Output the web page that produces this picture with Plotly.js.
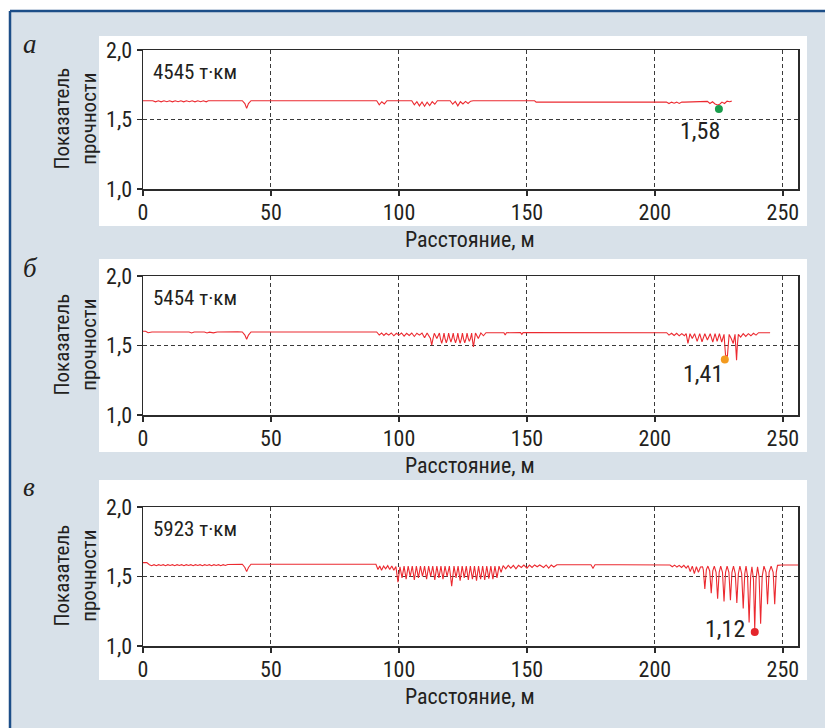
<!DOCTYPE html>
<html><head><meta charset="utf-8">
<script src="https://cdn.plot.ly/plotly-3.0.1.min.js"></script>
<style>html,body{margin:0;padding:0;background:#fff;} #chart{width:825px;height:728px;}</style>
</head><body><div id="chart"></div>
<script>
// ---------- DATA ----------
const xTicks = [0, 50, 100, 150, 200, 250];
const yTicks = [1.0, 1.5, 2.0];
const yTickText = ['1,0', '1,5', '2,0'];
const panelLetters = ['а', 'б', 'в'];
const panelLoads = ['4545 т·км', '5454 т·км', '5923 т·км'];
const xTitle = 'Расстояние, м';
const yTitle = 'Показатель<br>прочности';

const distA = [0,3.8,4.9,6.0,7.1,8.2,9.3,10.4,11.5,12.6,13.7,14.8,15.9,17.0,18.1,19.2,20.3,21.4,22.5,23.6,24.7,25.5,
  38.8,39.8,40.5,41.2,42.2,
  91.3,92.3,93.3,94.3,95.3,
  105,106,107,108,109,110,111,112,113,114,115,
  120,121,122,123,124,125,126,127,128,129,
  153,153.6,
  204.5,205.5,206.5,207.5,208.5,209.5,210.5,211.5,
  217.5,220.5,221.5,222.5,223.5,224.5,225.3,226.2,227.2,228.2,229.2,230];
const valA = [1.635,1.635,1.627,1.635,1.627,1.635,1.628,1.635,1.627,1.635,1.628,1.635,1.627,1.635,1.628,1.635,1.627,1.635,1.628,1.635,1.627,1.635,
  1.635,1.615,1.58,1.615,1.635,
  1.635,1.606,1.628,1.612,1.635,
  1.635,1.605,1.628,1.598,1.626,1.595,1.625,1.60,1.628,1.61,1.635,
  1.635,1.61,1.63,1.598,1.628,1.612,1.63,1.615,1.632,1.635,
  1.635,1.625,
  1.625,1.615,1.625,1.617,1.625,1.616,1.625,1.625,
  1.63,1.63,1.615,1.628,1.612,1.605,1.61,1.625,1.615,1.632,1.628,1.632];

const distB = [0,1,2,3.5,10,14,17,18,19,20,24,25,26,27.5,29,34,37,
  38.8,39.8,40.5,41.2,42.2,
  91.3,92.3,93.2,94.1,95,96,97,98,99,100,101,102,103,104,105,106,107,108,109,110,111,
  112.3,112.8,113.3,113.8,114.8,115.8,116.2,116.7,117.2,117.6,118.0,118.5,119.0,119.4,119.8,120.3,120.8,121.2,121.6,122.1,122.6,123,123.4,123.9,124.4,124.8,125.2,125.7,126.2,126.6,127.0,127.5,128.0,128.4,128.7,129.1,129.5,129.9,131,132,133,134,
  141,141.5,142,147.5,148,148.5,
  204.6,205.5,206.5,207.5,208.5,209.5,210.5,211.5,212.2,212.5,212.9,213.3,213.7,214.6,215.5,216.5,217.5,218.4,219.5,220.5,221.6,222.6,223.5,224.3,225.2,226.1,
  227.0,227.3,227.6,228.3,228.6,229,229.8,230.6,231.3,231.6,231.9,232.2,232.6,233.5,234.5,235.5,236.5,237.5,238.5,239.5,240.5,245];
const valB = [1.603,1.603,1.592,1.597,1.597,1.597,1.592,1.597,1.59,1.597,1.597,1.59,1.596,1.591,1.597,1.60,1.598,
  1.597,1.575,1.545,1.575,1.597,
  1.597,1.575,1.59,1.572,1.588,1.575,1.59,1.57,1.588,1.575,1.59,1.568,1.588,1.572,1.59,1.565,1.588,1.575,1.59,1.555,1.59,
  1.55,1.503,1.55,1.588,1.55,1.59,1.55,1.515,1.55,1.59,1.55,1.52,1.55,1.59,1.555,1.525,1.555,1.59,1.55,1.52,1.55,1.59,1.55,1.515,1.55,1.59,1.55,1.52,1.55,1.59,1.555,1.53,1.555,1.59,1.54,1.49,1.54,1.59,1.55,1.59,1.57,1.592,
  1.592,1.575,1.592,1.593,1.58,1.593,
  1.592,1.575,1.588,1.572,1.588,1.57,1.585,1.57,1.585,1.55,1.516,1.55,1.585,1.55,1.585,1.53,1.585,1.527,1.585,1.54,1.585,1.525,1.585,1.53,1.585,1.525,
  1.58,1.5,1.43,1.42,1.5,1.58,1.55,1.515,1.58,1.5,1.395,1.5,1.58,1.56,1.585,1.565,1.585,1.57,1.588,1.575,1.592,1.592];

const distC = [0,1.5,2.5,3.4,4.3,5.2,6.1,7.0,7.9,8.8,9.7,10.6,11.5,12.4,13.3,14.2,15.1,16.0,16.9,17.8,18.7,19.6,20.5,21.4,22.3,23.2,24.1,25.0,25.9,26.8,27.7,28.6,29.5,30.4,31.3,32.2,33.1,
  38.8,39.8,40.5,41.2,42.2,
  91,91.8,92.5,93.2,94,94.8,95.6,96.4,97.2,98,98.8,99.6,100.4,101.2,102,102.8,103.6,104.4,105.2,106,106.8,107.6,108.4,109.2,110,110.8,111.6,112.4,113.2,114,114.8,115.6,116.4,117.2,118,118.8,119.7,
  120.6,121.5,122.3,123.1,123.9,124.7,125.5,126.3,127.1,127.9,128.7,129.5,130.3,131.1,131.9,132.7,133.5,134.3,135.1,135.9,136.7,137.5,138.3,139.1,139.9,
  140.7,141.7,142.7,143.7,144.7,145.7,146.7,147.8,148.8,150,151,152,153,154,155,156.5,157.5,158.5,159.5,160.5,161.7,
  175,175.8,176.6,186,196,
  205.9,206.8,207.7,208.6,209.5,210.4,211.3,212.2,213,213.8,214.6,215.4,216.2,217,217.8,218.6,
  218.9,219.5,220.1,220.7,221.4,222.0,222.6,223.2,223.9,224.5,225.1,225.7,226.4,227.0,227.6,228.2,228.9,229.5,230.1,230.7,231.4,232.0,232.6,233.2,
  233.9,234.5,235.1,235.6,236.2,236.8,237.4,237.9,238.5,239.0,239.5,240.1,240.7,241.3,241.9,242.6,243.4,244.0,244.6,245.4,246.2,246.8,247.4,247.9,249.5,256];
const valC = [1.60,1.60,1.585,1.578,1.585,1.578,1.585,1.579,1.585,1.578,1.585,1.579,1.585,1.578,1.585,1.579,1.585,1.578,1.585,1.579,1.585,1.578,1.585,1.579,1.585,1.578,1.585,1.579,1.585,1.578,1.585,1.579,1.585,1.578,1.585,1.579,1.586,
  1.588,1.565,1.535,1.565,1.588,
  1.588,1.55,1.575,1.545,1.575,1.555,1.578,1.55,1.575,1.545,1.572,1.46,1.57,1.49,1.575,1.48,1.575,1.50,1.575,1.475,1.575,1.49,1.575,1.50,1.575,1.48,1.575,1.50,1.575,1.475,1.575,1.49,1.575,1.48,1.575,1.50,1.575,
  1.43,1.575,1.49,1.575,1.47,1.575,1.49,1.575,1.475,1.575,1.48,1.575,1.47,1.575,1.48,1.575,1.475,1.575,1.485,1.575,1.48,1.575,1.49,1.575,1.53,
  1.578,1.555,1.58,1.56,1.58,1.555,1.58,1.565,1.582,1.56,1.582,1.565,1.583,1.57,1.583,1.565,1.583,1.56,1.583,1.568,1.585,
  1.585,1.56,1.585,1.585,1.583,
  1.583,1.57,1.582,1.568,1.58,1.565,1.58,1.56,1.578,1.535,1.575,1.52,1.57,1.53,1.568,1.57,
  1.55,1.41,1.55,1.575,1.54,1.38,1.54,1.575,1.53,1.34,1.53,1.575,1.53,1.32,1.53,1.575,1.53,1.33,1.53,1.575,1.52,1.31,1.52,1.575,
  1.52,1.27,1.52,1.575,1.50,1.17,1.50,1.57,1.48,1.12,1.48,1.57,1.50,1.16,1.50,1.575,1.53,1.30,1.53,1.575,1.53,1.30,1.53,1.58,1.583,1.583];

const minX = [225, 227.3, 239];
const minY = [1.575, 1.40, 1.10];
const minLabels = ['1,58', '1,41', '1,12'];
const minColors = ['#1a9d4c', '#f39a1f', '#e4252b'];

// ---------- LAYOUT GEOMETRY (pixels) ----------
const W = 825, H = 728;
const px = v => v / W, py = v => 1 - v / H;
const plotLeft = 143, plotRight = 798;
const panels = [
  {top: 50, bottom: 189, wTop: 36, wBot: 226, title: 240, letter: 44, load: 72, lx: -19, ly: -22},
  {top: 276, bottom: 415, wTop: 259, wBot: 452, title: 466, letter: 268, load: 298, lx: -22, ly: -15},
  {top: 507, bottom: 646, wTop: 480, wBot: 680, title: 696, letter: 487, load: 529, lx: -30, ly: 3}
];
const FONT = 'Liberation Sans Narrow, Roboto Condensed, DejaVu Sans Condensed, Arial Narrow, sans-serif';
const TXT = '#231f20';
const BORDER = '#1c4e88';

const dists = [distA, distB, distC];
const vals = [valA, valB, valC];

const data = [];
const layout = {
  width: W, height: H,
  margin: {l: 0, r: 0, t: 0, b: 0},
  paper_bgcolor: '#ffffff',
  plot_bgcolor: '#ffffff',
  showlegend: false,
  shapes: [
    {type: 'rect', xref: 'paper', yref: 'paper', layer: 'below',
     x0: px(10), x1: 1, y0: 0, y1: py(11),
     fillcolor: '#d8e1e9', line: {width: 0}},
    {type: 'line', xref: 'paper', yref: 'paper', layer: 'below',
     x0: px(10), x1: 1, y0: py(11), y1: py(11), line: {color: BORDER, width: 2.5}},
    {type: 'line', xref: 'paper', yref: 'paper', layer: 'below',
     x0: px(10), x1: px(10), y0: 0, y1: py(11), line: {color: BORDER, width: 2.5}}
  ],
  annotations: []
};

panels.forEach((p, i) => {
  const sfx = i === 0 ? '' : String(i + 1);
  const xa = 'x' + sfx, ya = 'y' + sfx;
  data.push({
    type: 'scatter', mode: 'lines', x: dists[i], y: vals[i],
    xaxis: xa, yaxis: ya,
    line: {color: '#ec2a30', width: 1.1}, hoverinfo: 'skip'
  });
  data.push({
    type: 'scatter', mode: 'markers', x: [minX[i]], y: [minY[i]],
    xaxis: xa, yaxis: ya,
    marker: {color: minColors[i], size: 8}, hoverinfo: 'skip'
  });
  const axCommon = {
    showline: true, linecolor: '#2b2b2b', linewidth: 1.5, mirror: true,
    ticks: 'outside', ticklen: 5, tickwidth: 1.3, tickcolor: '#2b2b2b',
    showgrid: true, gridcolor: '#3a3a3a', gridwidth: 1, griddash: '4px,3px',
    zeroline: false, automargin: false, fixedrange: true,
    tickfont: {family: FONT, size: 22, color: TXT}
  };
  layout['xaxis' + sfx] = Object.assign({}, axCommon, {
    domain: [px(plotLeft), px(plotRight)], anchor: ya,
    range: [0, 255.9], tickmode: 'array', tickvals: xTicks,
    ticklabelstandoff: -2
  });
  layout['yaxis' + sfx] = Object.assign({}, axCommon, {
    domain: [py(p.bottom), py(p.top)], anchor: xa,
    range: [1, 2], tickmode: 'array', tickvals: yTicks, ticktext: yTickText
  });
  layout.shapes.push({
    type: 'rect', xref: 'paper', yref: 'paper', layer: 'below',
    x0: px(99), x1: px(807), y0: py(p.wBot), y1: py(p.wTop),
    fillcolor: '#ffffff', line: {width: 0}
  });
  layout.annotations.push({
    xref: 'paper', yref: 'paper', x: px(470), y: py(p.title),
    text: xTitle, showarrow: false, xanchor: 'center', yanchor: 'middle',
    font: {family: FONT, size: 22, color: TXT}
  });
  layout.annotations.push({
    xref: 'paper', yref: 'paper', x: px(75), y: py((p.top + p.bottom) / 2 - 1),
    text: yTitle, textangle: -90, showarrow: false, xanchor: 'center', yanchor: 'middle',
    font: {family: FONT, size: 21, color: TXT}
  });
  layout.annotations.push({
    xref: 'paper', yref: 'paper', x: px(21), y: py(p.letter),
    text: panelLetters[i], showarrow: false, xanchor: 'left', yanchor: 'middle',
    font: {family: 'Liberation Serif, DejaVu Serif, serif', size: 27, style: 'italic', color: TXT}
  });
  layout.annotations.push({
    xref: 'paper', yref: 'paper', x: px(151), y: py(p.load),
    text: panelLoads[i], showarrow: false, xanchor: 'left', yanchor: 'middle',
    font: {family: FONT, size: 21, color: TXT}
  });
  layout.annotations.push({
    xref: xa, yref: ya, x: minX[i], y: minY[i],
    text: minLabels[i], showarrow: false, xanchor: 'center', yanchor: 'middle',
    xshift: p.lx, yshift: p.ly,
    font: {family: FONT, size: 24, color: TXT}
  });
});

Plotly.newPlot('chart', data, layout, {displayModeBar: false, staticPlot: true});
</script>
</body></html>
